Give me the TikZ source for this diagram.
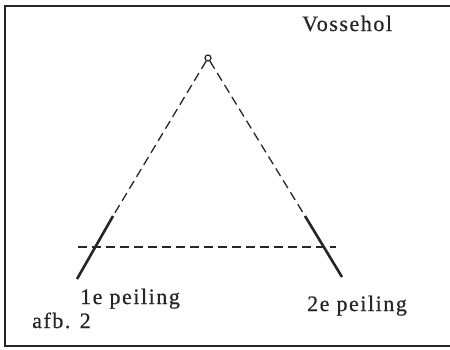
\documentclass[tikz,border=0pt]{standalone}
\usepackage{fontspec}
\setmainfont{Liberation Serif}
\newfontfamily\lbl[LetterSpace=7,FakeBold=0.6]{Liberation Serif}
\begin{document}
\begin{tikzpicture}[x=1pt,y=-1pt,
  frame/.style={line width=1.8pt,draw=black!85},
  guide/.style={dashed,dash pattern=on 9pt off 5pt,line width=1.3pt,draw=black!85},
  bearing/.style={line width=2.6pt,draw=black!85},
  txt/.style={anchor=base west,inner sep=0pt,font=\lbl\fontsize{22}{24}\selectfont,text=black!85}]
\useasboundingbox (0,0) rectangle (450,349);
\fill[white] (0,0) rectangle (450,349);
\draw[frame] (452,6) -- (5,6) -- (5,346) -- (452,346);
\node[circle,draw=black!85,line width=1.2pt,minimum size=6pt,inner sep=0pt] (A) at (208,58) {};
\coordinate (L1) at (113,216);
\coordinate (L2) at (77,279);
\coordinate (R1) at (305,216);
\coordinate (R2) at (342,277);
\coordinate (H1) at (78,247);
\coordinate (H2) at (336,247);
\draw[guide] (A) -- (L1);
\draw[guide] (A) -- (R1);
\draw[bearing] (L1) -- (L2);
\draw[bearing] (R1) -- (R2);
\draw[guide] (H1) -- (H2);
\node[txt] (v) at (302,31) {Vossehol};
\node[txt] (p1) at (80,304) {1e peiling};
\node[txt] (p2) at (307,311) {2e peiling};
\node[txt] (afb) at (32,328) {afb. 2};
\end{tikzpicture}
\end{document}
